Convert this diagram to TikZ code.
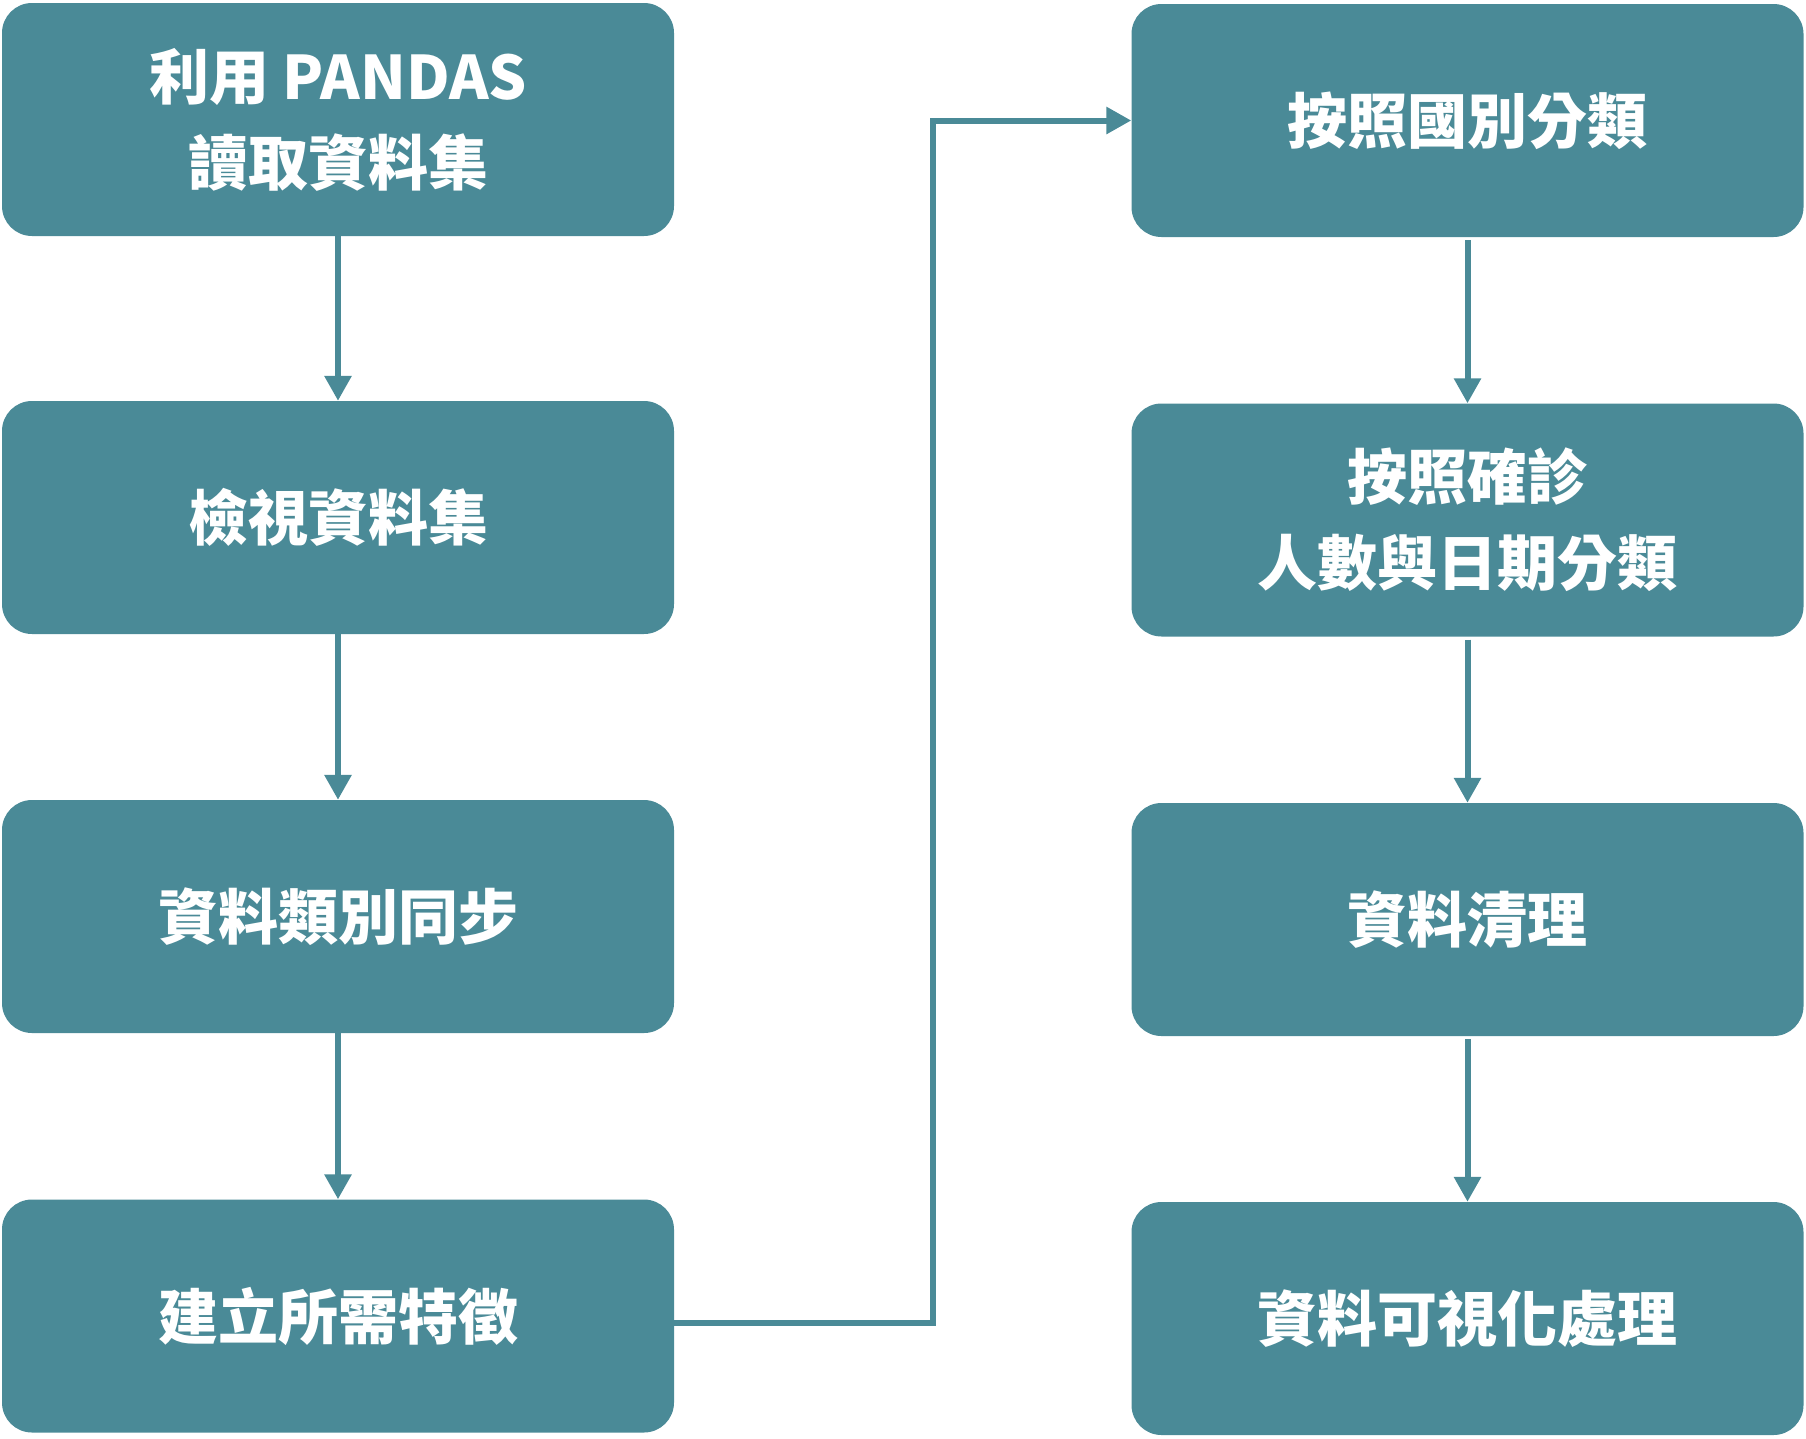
\documentclass[tikz,border=0pt]{standalone}
\usepackage{fontspec}
\setmainfont{Noto Sans CJK TC}
\usetikzlibrary{arrows.meta}
\definecolor{teal1}{RGB}{74,138,151}
\begin{document}
\begin{tikzpicture}[x=1pt,y=-1pt,
  stepbox/.style={rectangle, rounded corners=30pt, fill=teal1, draw=none,
    minimum width=672pt, minimum height=233pt, inner sep=0pt,
    text=white, align=center, font=\fontsize{60}{86}\selectfont\bfseries},
  flow/.style={draw=teal1, line width=6pt,
    -{Triangle[width=26pt,length=25pt]}}]
\useasboundingbox (0,0) rectangle (1806,1438);
\node[stepbox] (l1) at (338,119.5) {利用 PANDAS\\讀取資料集};
\node[stepbox] (l2) at (338,517.5) {檢視資料集};
\node[stepbox] (l3) at (338,916.5) {資料類別同步};
\node[stepbox] (l4) at (338,1316) {建立所需特徵};
\node[stepbox] (r1) at (1467.5,120.5) {按照國別分類};
\node[stepbox] (r2) at (1467.5,520) {按照確診\\人數與日期分類};
\node[stepbox] (r3) at (1467.5,919.5) {資料清理};
\node[stepbox] (r4) at (1467.5,1318.5) {資料可視化處理};
\coordinate (cx) at (933,0);
\draw[flow] (l1.south) -- (l2.north);
\draw[flow] (l2.south) -- (l3.north);
\draw[flow] (l3.south) -- (l4.north);
\draw[flow] ([yshift=-7pt]l4.east) -| (cx |- r1.west) -- (r1.west);
\draw[flow] ([yshift=-3pt]r1.south) -- (r2.north);
\draw[flow] ([yshift=-3pt]r2.south) -- (r3.north);
\draw[flow] ([yshift=-3pt]r3.south) -- (r4.north);
\end{tikzpicture}
\end{document}
